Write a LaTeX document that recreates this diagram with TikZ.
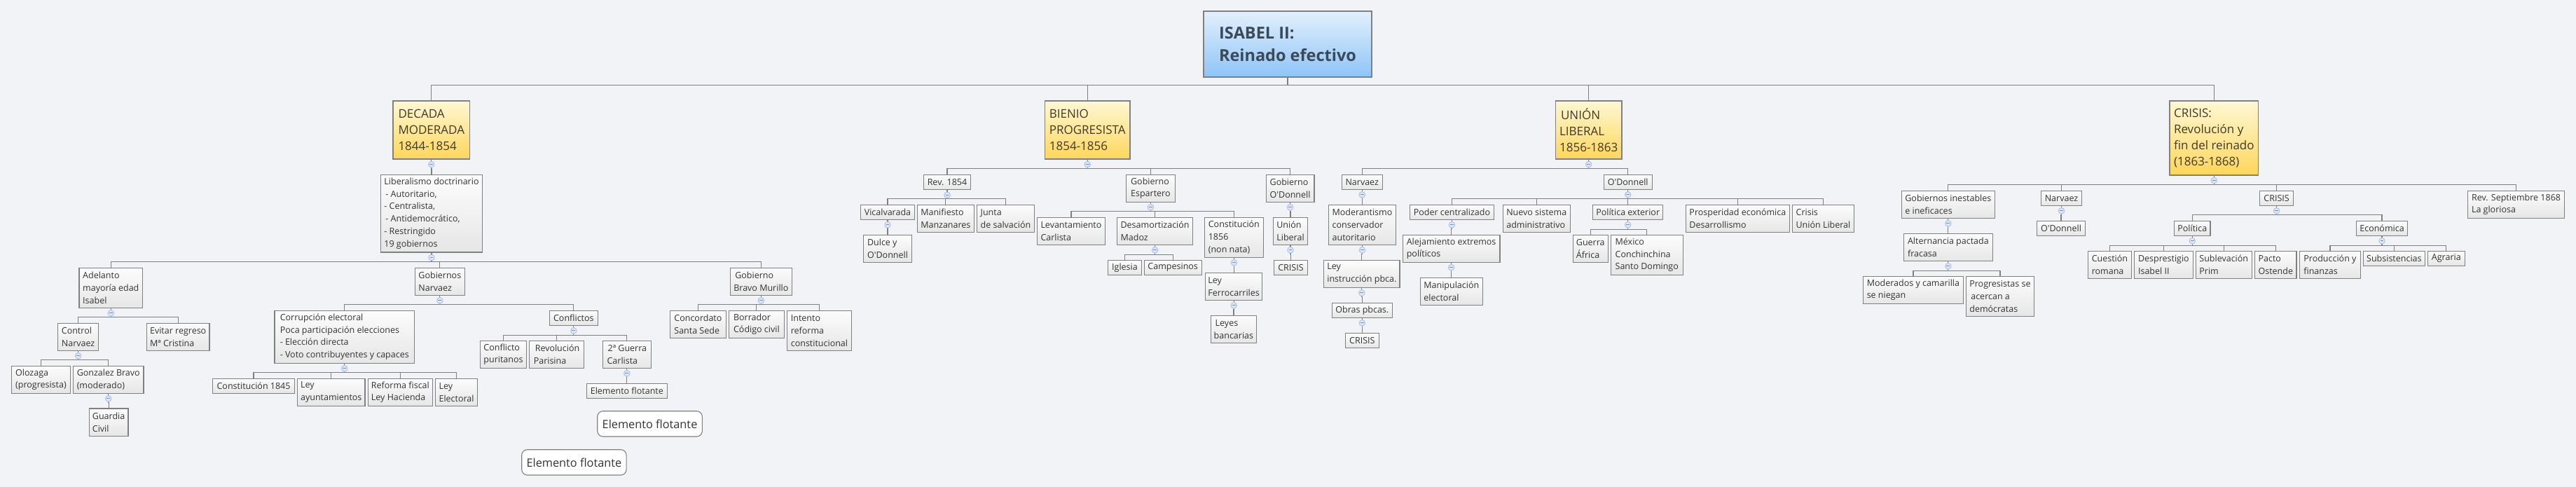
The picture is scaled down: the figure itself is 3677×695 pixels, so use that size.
\documentclass[tikz,border=0pt]{standalone}
\usepackage{fontspec}
\newfontfamily\of{Open Sans}
\definecolor{bg}{HTML}{F2F3F7}
\definecolor{linec}{HTML}{7F7F7F}
\definecolor{boxc}{HTML}{808080}
\definecolor{cT}{HTML}{FCFCFC}
\definecolor{cB}{HTML}{E6E6E6}
\definecolor{secT}{HTML}{FFF8D4}
\definecolor{secB}{HTML}{FDD65A}
\definecolor{titT}{HTML}{E2F0FD}
\definecolor{titB}{HTML}{8EC4F7}
\definecolor{txt}{HTML}{333333}
\definecolor{sectxt}{HTML}{40392A}
\definecolor{tittxt}{HTML}{3C4957}
\definecolor{icF}{HTML}{DCE8F7}
\definecolor{icD}{HTML}{A3BFE3}
\definecolor{icM}{HTML}{6F93C7}
\tikzset{
  conn/.style={draw=linec, line width=1.2},
  nb/.style={draw=boxc, line width=1.1, text=txt, align=left, inner xsep=4, inner ysep=2},
  box/.style={nb, top color=cT, bottom color=cB, font=\of\fontsize{12.5}{17.8}\selectfont},
  sect/.style={nb, top color=secT, bottom color=secB, text=sectxt, font=\of\fontsize{17}{22.8}\selectfont},
  titl/.style={nb, top color=titT, bottom color=titB, text=tittxt, font=\of\bfseries\fontsize{23.5}{32}\selectfont},
  flo/.style={nb, fill=white, rounded corners=8, font=\of\fontsize{16.3}{20}\selectfont},
  icon/.style={fill=icF, draw=icD, line width=0.8},
  iconminus/.style={draw=icM, line width=0.9},
}
\newcommand\mbx[7][box]{\node[#1,minimum width={(#5)-(#3)},minimum height={(#6)-(#4)}] (#2) at ({(#3+#5)/2},{(#4+#6)/2}) {#7};}
\newcommand\mtrunk[3]{\foreach \ch in {#3} {\draw[conn] (#1.south) -- ++(0,#2) -| (\ch.north);}}
\newcommand\mtree[3]{\mtrunk{#1}{#2}{#3}%
  \filldraw[icon] (#1.south) ++(0,7) circle[radius=4.3];
  \draw[iconminus] (#1.south) ++(-2.4,7) -- ++(4.8,0);}
\begin{document}
\begin{tikzpicture}[x=1pt,y=-1pt]
\fill[bg] (0,0) rectangle (3677,695);
\useasboundingbox (0,0) rectangle (3677,695);
% title and sections
\mbx[titl]{tit}{1718}{16}{1958}{110}{ISABEL II:\\Reinado efectivo}
\mbx[sect]{dec}{561}{144}{670.5}{227}{DECADA\\MODERADA\\1844-1854}
\mbx[sect]{bie}{1491.4}{144}{1613}{227}{BIENIO\\PROGRESISTA\\1854-1856}
\mbx[sect]{uni}{2220.4}{144}{2315}{227}{\hspace{2pt}UNIÓN\\LIBERAL\\1856-1863}
\mbx[sect]{cri}{3097}{144}{3223.6}{250}{CRISIS:\\Revolución y\\fin del reinado\\(1863-1868)}
% DECADA MODERADA
\mbx{lib}{543.7}{249.3}{688.3}{360}{Liberalismo doctrinario\\\hspace{2pt}- Autoritario,\\- Centralista,\\\hspace{2pt}- Antidemocrático,\\- Restringido\\19 gobiernos}
\mbx{adel}{113}{382.3}{203.6}{439.3}{Adelanto\\mayoría edad\\Isabel}
\mbx{gnar}{592.3}{382.3}{663.4}{421.3}{Gobiernos\\Narvaez}
\mbx{gbm}{1042.4}{382.3}{1130.3}{421.3}{\hspace{2pt}Gobierno\\Bravo Murillo}
\mbx{ctrl}{82.6}{461.3}{140.6}{500.3}{Control\\Narvaez}
\mbx{evit}{209.4}{461.3}{299}{500.3}{Evitar regreso\\Mª Cristina}
\mbx{oloz}{16.5}{522.3}{100.4}{561.3}{Olozaga\\(progresista)}
\mbx{gonz}{104.5}{522.3}{205}{561.3}{Gonzalez Bravo\\(moderado)}
\mbx{guard}{127.2}{583}{183}{622.3}{Guardia\\Civil}
\mbx{corr}{392}{443.3}{591.5}{518.3}{Corrupción electoral\\Poca participación elecciones\\- Elección directa\\- Voto contribuyentes y capaces}
\mbx{confl}{784.3}{443.3}{853.4}{464.3}{Conflictos}
\mbx{c1845}{303.6}{540.3}{420.5}{561.3}{Constitución 1845}
\mbx{leyay}{424.5}{540.3}{521}{579.3}{Ley\\ayuntamientos}
\mbx{refis}{525.4}{540.3}{617.4}{579.3}{Reforma fiscal\\Ley Hacienda}
\mbx{leyel}{621.4}{540.3}{681.7}{579.3}{Ley\\Electoral}
\mbx{cpur}{685.8}{486.3}{751.2}{525.3}{Conflicto\\puritanos}
\mbx{rpar}{755.2}{486.3}{833.8}{525.3}{\hspace{2pt}Revolución\\Parisina}
\mbx{guer}{860.3}{486.3}{929.4}{525.3}{\hspace{1pt}2ª Guerra\\Carlista}
\mbx{ef}{837.4}{547.3}{952.3}{568.3}{Elemento flotante}
\mbx{conc}{956.6}{443.3}{1036.2}{482.3}{Concordato\\Santa Sede}
\mbx{borr}{1040.2}{443.3}{1119.5}{482.3}{Borrador\\Código civil}
\mbx{inte}{1123.5}{443.3}{1215.4}{500.3}{Intento\\reforma\\constitucional}
\mbx[flo]{flo1}{852.7}{586.7}{1002.4}{623}{Elemento flotante}
\mbx[flo]{flo2}{744.7}{641.7}{894.1}{678}{Elemento flotante}
% BIENIO
\mbx{rev}{1318.4}{249.3}{1385.6}{270.7}{Rev. 1854}
\mbx{gesp}{1607.2}{249.3}{1677.5}{288.3}{Gobierno\\Espartero}
\mbx{god}{1807.1}{249.3}{1876}{288.3}{Gobierno\\O'Donnell}
\mbx{vical}{1228.6}{292.3}{1305.4}{313.3}{Vicalvarada}
\mbx{manif}{1309.3}{292.3}{1390.4}{331.3}{Manifiesto\\Manzanares}
\mbx{junta}{1394.7}{292.3}{1476.2}{331.3}{Junta\\de salvación}
\mbx{dulce}{1232.5}{335.3}{1301.5}{374.3}{Dulce y\\O'Donnell}
\mbx{levc}{1480.6}{310.3}{1577.3}{349.3}{Levantamiento\\Carlista}
\mbx{desam}{1594.6}{310.3}{1702.6}{349.3}{Desamortización\\Madoz}
\mbx{c1856}{1719.5}{310.3}{1803.2}{367.3}{Constitución\\1856\\(non nata)}
\mbx{igl}{1581.6}{371.3}{1629.3}{392.3}{Iglesia}
\mbx{camp}{1633.2}{371.3}{1715.2}{392.3}{Campesinos}
\mbx{ferro}{1720.4}{389.3}{1801.9}{428.3}{Ley\\Ferrocarriles}
\mbx{banc}{1728.6}{450.3}{1793.2}{489.3}{\hspace{2pt}Leyes\\bancarias}
\mbx{ulib}{1817.5}{310.3}{1866.5}{349.3}{Unión\\Liberal}
\mbx{bcris}{1818.4}{371.3}{1866.5}{392.3}{CRISIS}
% UNION LIBERAL
\mbx{unar}{1915.3}{249.3}{1973.2}{270.3}{Narvaez}
\mbx{uodo}{2289.3}{249.3}{2358.1}{270.3}{O'Donnell}
\mbx{moder}{1896.5}{292.3}{1992.4}{349.3}{Moderantismo\\conservador\\autoritario}
\mbx{leyins}{1889.7}{371.3}{1998}{410.3}{Ley\\instrucción pbca.}
\mbx{obras}{1901.4}{432.3}{1987.2}{453.3}{Obras pbcas.}
\mbx{ucris}{1920.2}{475.3}{1968.4}{496.3}{CRISIS}
\mbx{poder}{2012.4}{292.3}{2132.4}{313.3}{Poder centralizado}
\mbx{nuevo}{2145.5}{292.3}{2241.1}{331.3}{Nuevo sistema\\administrativo}
\mbx{polext}{2273.5}{292.3}{2373.9}{313.3}{Política exterior}
\mbx{prosp}{2406.3}{292.3}{2554.4}{331.3}{Prosperidad económica\\Desarrollismo}
\mbx{crisul}{2558.3}{292.3}{2646.6}{331.3}{Crisis\\Unión Liberal}
\mbx{alej}{2002.2}{335.3}{2141}{374.3}{Alejamiento extremos\\políticos}
\mbx{manip}{2027.4}{396.3}{2116.2}{435.3}{Manipulación\\electoral}
\mbx{guerra}{2245.2}{335.3}{2295.3}{374.3}{Guerra\\África}
\mbx{mexico}{2299.4}{335.3}{2402.1}{392.3}{México\\Conchinchina\\Santo Domingo}
% CRISIS
\mbx{gin}{2714.3}{272.3}{2847.4}{311.3}{Gobiernos inestables\\e ineficaces}
\mbx{cnar}{2913.5}{272.3}{2971.5}{293.3}{Narvaez}
\mbx{ccris}{3225.6}{272.3}{3273.5}{293.3}{CRISIS}
\mbx{rsep}{3522.4}{272.3}{3660.6}{311.3}{Rev. Septiembre 1868\\La gloriosa}
\mbx{alter}{2717.4}{333.3}{2844.3}{372.3}{Alternancia pactada\\fracasa}
\mbx{modc}{2659.5}{394.3}{2802.3}{433.3}{Moderados y camarilla\\se niegan}
\mbx{progr}{2806.1}{394.3}{2903.8}{451.3}{Progresistas se\\\hspace{2pt}acercan a\\demócratas}
\mbx{codo}{2907.3}{315.3}{2976.6}{336.3}{O'Donnell}
\mbx{pol}{3103.5}{315.3}{3155}{336.3}{Política}
\mbx{eco}{3363.5}{315.3}{3436.5}{336.3}{Económica}
\mbx{cues}{2980.5}{358.3}{3042.3}{397.3}{Cuestión\\romana}
\mbx{despr}{3046.5}{358.3}{3130.3}{397.3}{Desprestigio\\Isabel II}
\mbx{subl}{3134.4}{358.3}{3214.1}{397.3}{Sublevación\\Prim}
\mbx{pacto}{3218.6}{358.3}{3278}{397.3}{Pacto\\Ostende}
\mbx{prod}{3282.6}{358.3}{3369.2}{397.3}{Producción y\\finanzas}
\mbx{subs}{3373.4}{358.3}{3461.3}{379.3}{Subsistencias}
\mbx{agra}{3465.4}{358.3}{3518.2}{379.3}{Agraria}
% connectors
\mtrunk{tit}{10.7}{dec,bie,uni,cri}
\mtree{dec}{13}{lib}
\mtree{lib}{13.3}{adel,gnar,gbm}
\mtree{adel}{13}{ctrl,evit}
\mtree{ctrl}{13}{oloz,gonz}
\mtree{gonz}{13}{guard}
\mtree{gnar}{12.7}{corr,confl}
\mtree{corr}{13}{c1845,leyay,refis,leyel}
\mtree{confl}{13.4}{cpur,rpar,guer}
\mtree{guer}{13}{ef}
\mtree{gbm}{12.7}{conc,borr,inte}
\mtree{bie}{13}{rev,gesp,god}
\mtree{rev}{12.6}{vical,manif,junta}
\mtree{vical}{13}{dulce}
\mtree{gesp}{13}{levc,desam,c1856}
\mtree{desam}{13.4}{igl,camp}
\mtree{c1856}{13}{ferro}
\mtree{ferro}{13}{banc}
\mtree{god}{13}{ulib}
\mtree{ulib}{13}{bcris}
\mtree{uni}{13}{unar,uodo}
\mtree{unar}{13}{moder}
\mtree{moder}{13}{leyins}
\mtree{leyins}{13}{obras}
\mtree{obras}{13}{ucris}
\mtree{uodo}{13}{poder,nuevo,polext,prosp,crisul}
\mtree{poder}{13}{alej}
\mtree{alej}{13}{manip}
\mtree{polext}{13.4}{guerra,mexico}
\mtree{cri}{13.3}{gin,cnar,ccris,rsep}
\mtree{gin}{13}{alter}
\mtree{alter}{13.4}{modc,progr}
\mtree{cnar}{13}{codo}
\mtree{ccris}{13}{pol,eco}
\mtree{pol}{13.4}{cues,despr,subl,pacto}
\mtree{eco}{13.4}{prod,subs,agra}
\end{tikzpicture}
\end{document}
